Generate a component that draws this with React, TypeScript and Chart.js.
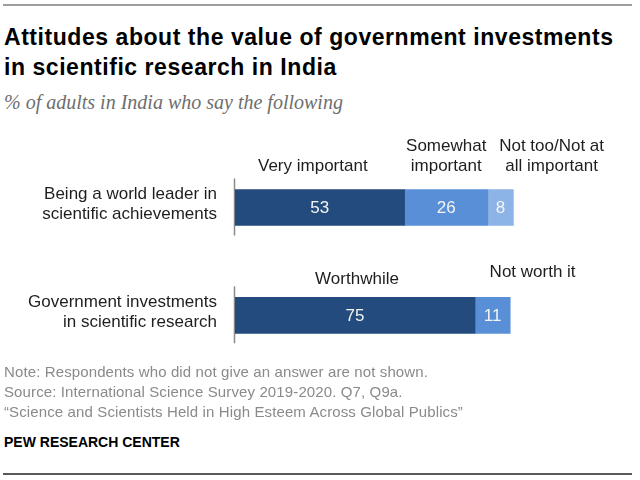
import React, { useEffect, useRef } from "react";
import { Chart, registerables } from "chart.js";

Chart.register(...registerables);

// ---- data ----
const categories: string[][] = [
  ["Being a world leader in", "scientific achievements"],
  ["Government investments", "in scientific research"],
];
const firstValues: (number | null)[] = [53, 75];
const secondValues: (number | null)[] = [26, 11];
const thirdValues: (number | null)[] = [8, null];

const firstNames: (string[] | null)[] = [["Very important"], ["Worthwhile"]];
const secondNames: (string[] | null)[] = [["Somewhat", "important"], ["Not worth it"]];
const thirdNames: (string[] | null)[] = [["Not too/Not at", "all important"], null];

// ---- styles ----
const COLORS = ["#234b7d", "#588fd6", "#8db4e6"];
const FONT = "'Liberation Sans', Arial, sans-serif";
// per dataset, per row: [dx from segment centre, gap from bar top to last text line centre]
const headerNudge: ([number, number] | null)[][] = [
  [[-7, 23.5], [2, 18]],
  [[0, 23.5], [40, 24.6]],
  [[51, 23.5], null],
];
const headerNames = [firstNames, secondNames, thirdNames];

const labelsPlugin = {
  id: "segLabels",
  beforeDatasetsDraw(chart: any) {
    const ctx = chart.ctx;
    const yScale = chart.scales.y;
    const left = chart.chartArea.left;
    ctx.save();
    ctx.strokeStyle = "#8a8a8a";
    ctx.lineWidth = 1.5;
    categories.forEach((_, j) => {
      const y = yScale.getPixelForValue(j);
      ctx.beginPath();
      ctx.moveTo(left - 0.5, y - 29);
      ctx.lineTo(left - 0.5, y + 28);
      ctx.stroke();
    });
    ctx.restore();
  },
  afterDatasetsDraw(chart: any) {
    const ctx = chart.ctx;
    ctx.save();
    ctx.textAlign = "center";
    ctx.textBaseline = "middle";
    chart.data.datasets.forEach((ds: any, i: number) => {
      const meta = chart.getDatasetMeta(i);
      meta.data.forEach((el: any, j: number) => {
        const v = ds.data[j];
        if (v == null) return;
        const props = el.getProps(["x", "y", "base", "height"], true);
        const cx = (props.x + props.base) / 2;
        ctx.font = `17px ${FONT}`;
        ctx.fillStyle = "#f4f4f4";
        ctx.fillText(String(v), cx, props.y + 1);
        const names = headerNames[i][j];
        const nudge = headerNudge[i][j];
        if (names && nudge) {
          ctx.fillStyle = "#1e1e1e";
          const top = props.y - props.height / 2;
          const lastY = top - nudge[1];
          names.forEach((line: string, k: number) => {
            const yy = lastY - (names.length - 1 - k) * 20;
            ctx.fillText(line, cx + nudge[0], yy);
          });
        }
      });
    });
    ctx.restore();
  },
};

function BarChart() {
  const ref = useRef<HTMLCanvasElement | null>(null);
  useEffect(() => {
    if (!ref.current) return;
    const chart = new Chart(ref.current, {
      type: "bar",
      data: {
        labels: categories as any,
        datasets: [
          { label: "first", data: firstValues, backgroundColor: COLORS[0] },
          { label: "second", data: secondValues, backgroundColor: COLORS[1] },
          { label: "third", data: thirdValues, backgroundColor: COLORS[2] },
        ],
      },
      options: {
        indexAxis: "y",
        animation: false,
        responsive: false,
        devicePixelRatio: 1,
        datasets: { bar: { barThickness: 36, borderWidth: 0 } } as any,
        layout: { padding: { left: 0, right: 85, top: 23.6, bottom: 5.8 } },
        plugins: {
          legend: { display: false },
          tooltip: { enabled: false },
          title: { display: false },
        },
        scales: {
          x: { stacked: true, min: 0, max: 100, display: false },
          y: {
            stacked: true,
            grid: { display: false, drawTicks: false },
            border: { display: false },
            ticks: {
              color: "#1e1e1e",
              font: { family: FONT, size: 17, lineHeight: 1.15 },
              padding: 18,
              labelOffset: -3,
            },
            afterFit(scale: any) {
              scale.width = 235;
              scale.paddingTop = 0;
              scale.paddingBottom = 0;
            },
          },
        },
      },
      plugins: [labelsPlugin],
    });
    return () => chart.destroy();
  }, []);
  return <canvas ref={ref} width={640} height={245} style={{ display: "block" }} />;
}

export default function App() {
  const noteStyle: React.CSSProperties = {
    fontFamily: FONT,
    fontSize: 15,
    lineHeight: "20px",
    letterSpacing: 0.12,
    color: "#8a8a8a",
    whiteSpace: "nowrap",
  };
  return (
    <div
      style={{
        position: "absolute",
        left: 0,
        top: 0,
        width: 640,
        height: 480,
        background: "#fff",
        overflow: "hidden",
      }}
    >
      <div style={{ position: "absolute", left: 3, top: 4, width: 629, height: 2, background: "#9e9e9e" }} />
      <div
        style={{
          position: "absolute",
          left: 4,
          top: 22,
          fontFamily: FONT,
          fontWeight: "bold",
          fontSize: 23,
          lineHeight: "30px",
          letterSpacing: 0.55,
          color: "#000",
          whiteSpace: "nowrap",
        }}
      >
        <div>Attitudes about the value of government investments</div>
        <div>in scientific research in India</div>
      </div>
      <div
        style={{
          position: "absolute",
          left: 4,
          top: 92,
          fontFamily: "'Liberation Serif', 'DejaVu Serif', serif",
          fontStyle: "italic",
          fontSize: 20,
          lineHeight: "20px",
          color: "#6e6e6e",
          whiteSpace: "nowrap",
        }}
      >
        % of adults in India who say the following
      </div>
      <div style={{ position: "absolute", left: 0, top: 130, width: 640, height: 245 }}>
        <BarChart />
      </div>
      <div style={{ position: "absolute", left: 4, top: 361.5, ...noteStyle }}>
        <div>Note: Respondents who did not give an answer are not shown.</div>
        <div>Source: International Science Survey 2019-2020. Q7, Q9a.</div>
        <div>“Science and Scientists Held in High Esteem Across Global Publics”</div>
      </div>
      <div
        style={{
          position: "absolute",
          left: 4,
          top: 432,
          fontFamily: FONT,
          fontWeight: "bold",
          fontSize: 14,
          lineHeight: "20px",
          color: "#000",
          whiteSpace: "nowrap",
        }}
      >
        PEW RESEARCH CENTER
      </div>
      <div style={{ position: "absolute", left: 3, top: 472.5, width: 629, height: 2, background: "#5a5a5a" }} />
    </div>
  );
}
